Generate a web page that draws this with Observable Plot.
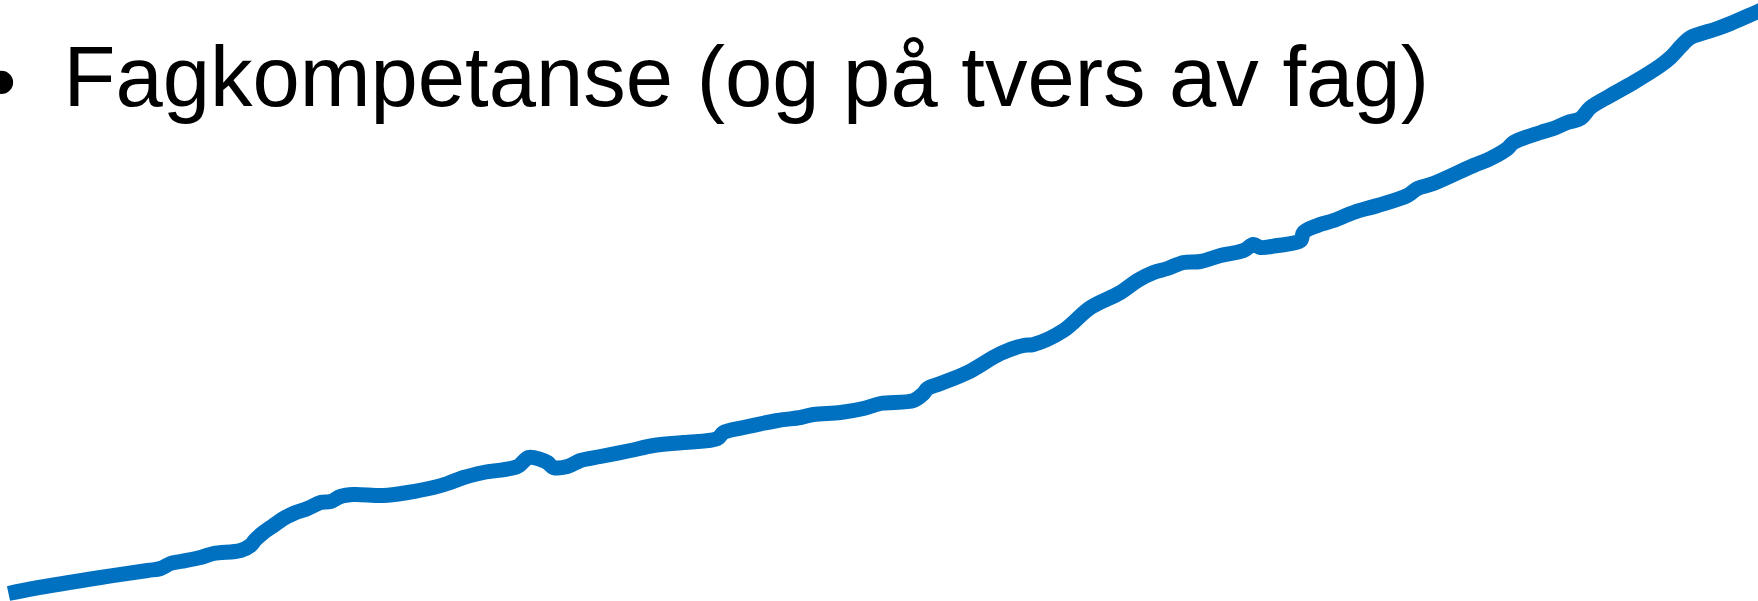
<!DOCTYPE html>
<html>
<head>
<meta charset="utf-8">
<script src="https://cdn.jsdelivr.net/npm/d3@7"></script>
<script src="https://cdn.jsdelivr.net/npm/@observablehq/plot@0.6"></script>
<style>
  html, body { margin: 0; padding: 0; background: #ffffff; }
  #chart svg { display: block; }
</style>
</head>
<body>
<div id="chart"></div>
<script>
// Bullet text
const bulletText = "Fagkompetanse (og på tvers av fag)";

// Progress curve: horizontal position and level
const xs = [8,33,100,147,160,170,180,200,213,240,250,255,263,273,283,293,307,320,330,340,353,383,407,433,447,463,483,517,528,540,547,553,567,580,600,630,653,683,717,723,743,777,800,813,840,863,880,913,923,927,940,967,1000,1023,1033,1063,1090,1120,1137,1153,1167,1183,1200,1220,1243,1253,1260,1277,1300,1303,1317,1333,1353,1377,1407,1417,1433,1473,1490,1507,1513,1540,1553,1567,1580,1590,1610,1633,1660,1670,1683,1690,1717,1730,1753,1762];
const levels = [8,13,24,31,33,38,40,44,48,51,56,62,69,76,83,88,93,99,100,105,107,106,109,114,118,124,129,135,144,142,139,134,135,141,145,151,156,159,163,169,174,181,184,187,189,193,198,201,208,213,218,229,248,256,257,271,294,309,321,329,333,339,340,346,351,357,354,356,361,369,376,381,389,396,406,413,418,436,443,453,459,469,473,479,483,494,506,519,536,544,558,564,573,578,588,592];

const data = xs.map((x, i) => ({x, level: levels[i]}));

const W = 1758, H = 601;
const font = "'Liberation Sans', Arial, Helvetica, sans-serif";

const chart = Plot.plot({
  width: W,
  height: H,
  margin: 0,
  x: {domain: [0, W], axis: null},
  y: {domain: [0, H], axis: null},
  style: {background: "#ffffff", fontFamily: font},
  marks: [
    Plot.line(data, {
      x: "x", y: "level",
      stroke: "#0070C0",
      strokeWidth: 15,
      strokeLinejoin: "round",
      strokeLinecap: "butt",
      curve: "catmull-rom",
      clip: true
    }),
    Plot.text(["•"], {
      text: d => d,
      frameAnchor: "top-left",
      dx: 1, dy: 110,
      textAnchor: "middle",
      lineAnchor: "bottom",
      fontSize: 85,
      fill: "#000000",
      fontFamily: font
    }),
    Plot.text([bulletText], {
      text: d => d,
      frameAnchor: "top-left",
      dx: 63, dy: 105,
      textAnchor: "start",
      lineAnchor: "bottom",
      fontSize: 85,
      fill: "#000000",
      fontFamily: font
    })
  ]
});
document.getElementById("chart").appendChild(chart);
</script>
</body>
</html>
